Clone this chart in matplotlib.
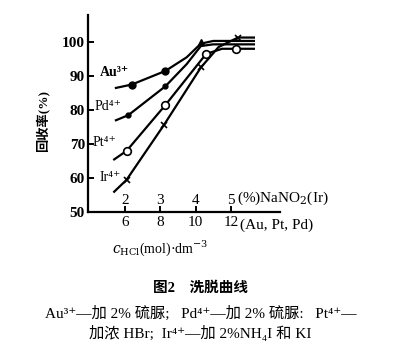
import matplotlib.pyplot as plt
import numpy as np

plt.rcParams['font.family'] = ['Liberation Serif', 'DejaVu Serif', 'Noto Sans CJK SC']
plt.rcParams['mathtext.fontset'] = 'dejavuserif'

# curves, x in HCl mol/dm3
au_x = [5.5, 6.4, 8.3, 9.5, 10.3, 11.0, 13.3]
au_y = [86.5, 87.5, 91.5, 95.5, 99.5, 100.3, 100.3]
pd_x = [5.5, 6.2, 8.3, 9.5, 10.3, 11.0, 13.3]
pd_y = [77.0, 78.5, 87.0, 93.5, 98.8, 99.3, 99.3]
pt_x = [5.4, 6.1, 8.3, 10.6, 11.5, 12.3, 13.3]
pt_y = [65.5, 68.0, 81.5, 96.5, 98.0, 98.0, 98.0]
ir_x = [5.4, 6.1, 8.2, 10.3, 11.3, 12.4, 13.3]
ir_y = [56.0, 59.5, 75.5, 92.5, 98.5, 101.3, 101.3]

au_mk = [1, 2]
pd_mk = [1, 2]
pt_mk = [1, 2, 3, 5]
ir_mk = [1, 2, 3, 5]

hcl_ticks = [6, 8, 10, 12]
nano2_ticks = ['2', '3', '4', '5']
y_ticks = [50, 60, 70, 80, 90, 100]

fig = plt.figure(figsize=(4.01, 3.59), dpi=100)
ax = fig.add_axes([0.219, 0.409, 0.479, 0.549])

lw = 1.6
ax.plot(au_x, au_y, 'k-', lw=lw, marker='o', markevery=au_mk, ms=5, mfc='k')
ax.plot(pd_x, pd_y, 'k-', lw=lw, marker='o', markevery=pd_mk, ms=3.5, mfc='k')
ax.plot(pt_x, pt_y, 'k-', lw=lw, marker='o', markevery=pt_mk, ms=5.5, mfc='white', mew=1.2)
ax.plot(ir_x, ir_y, 'k-', lw=lw, marker='x', markevery=ir_mk, ms=5, mew=1.2)
ax.plot([10.3], [100.0], marker='^', color='k', ms=5)

ax.set_xlim(3.91, 14.77)
ax.set_ylim(50, 107.9)
ax.spines['top'].set_visible(False)
ax.spines['right'].set_visible(False)
ax.spines['left'].set_linewidth(1.6)
ax.spines['bottom'].set_linewidth(1.6)

ax.set_yticks(y_ticks)
ax.set_yticklabels([str(v) for v in y_ticks], fontsize=11, fontweight='bold')
ax.tick_params(axis='y', direction='in', length=4, width=1.4, pad=2)
ax.set_xticks(hcl_ticks)
ax.set_xticklabels([str(v) for v in hcl_ticks], fontsize=11)
ax.tick_params(axis='x', direction='in', length=4, width=1.4, pad=3)

# second scale (NaNO2 %) drawn just above the axis
for xv, lab in zip(hcl_ticks, nano2_ticks):
    ax.text(xv, 51.5, lab, ha='center', va='bottom', fontsize=11)
ax.text(12.35, 51.5, '(%)NaNO$_2$(Ir)', ha='left', va='bottom', fontsize=11)
ax.text(12.5, 48.2, '(Au, Pt, Pd)', ha='left', va='top', fontsize=11)

ax.text(4.59, 90.9, 'Au³⁺', ha='left', va='center', fontsize=10, fontweight='bold')
ax.text(4.31, 80.9, 'Pd⁴⁺', ha='left', va='center', fontsize=10)
ax.text(4.2, 70.6, 'Pt⁴⁺', ha='left', va='center', fontsize=10)
ax.text(4.59, 60.3, 'Ir⁴⁺', ha='left', va='center', fontsize=10)

fig.text(0.107, 0.663, '回收率(%)', rotation=90, ha='center', va='center',
         fontsize=9.5, fontweight='bold')
fig.text(0.40, 0.309, '$c_{\\rm HCl}$(mol)$\\cdot$dm$^{-3}$', ha='center', va='center',
         fontsize=10)

fig.text(0.50, 0.198, '图2    洗脱曲线', ha='center', va='center', fontsize=10.5, fontweight='bold')
fig.text(0.50, 0.128, 'Au³⁺—加 2% 硫脲;   Pd⁴⁺—加 2% 硫脲:   Pt⁴⁺—',
         ha='center', va='center', fontsize=11)
fig.text(0.50, 0.072, '加浓 HBr;  Ir⁴⁺—加 2%NH₄I 和 KI',
         ha='center', va='center', fontsize=11)

fig.savefig('out.png', dpi=100)
